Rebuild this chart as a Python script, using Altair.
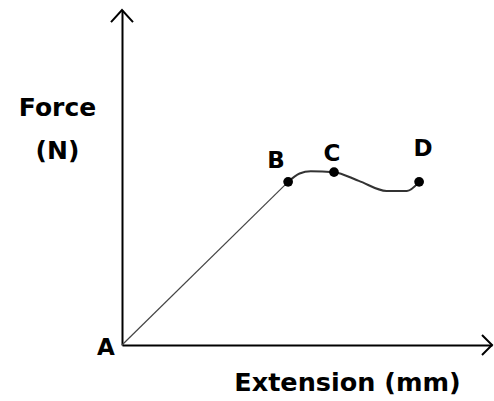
import altair as alt
import pandas as pd

# Force–extension curve: linear region A→B, then yielding B→C→D
linear_ext = [0.0, 4.49]
linear_force = [0.0, 4.87]

curve_ext = [4.49, 4.80, 5.10, 5.73, 6.40, 7.15, 7.70, 8.03]
curve_force = [4.87, 5.12, 5.19, 5.16, 4.90, 4.60, 4.60, 4.87]

point_labels = ["B", "C", "D"]
point_ext = [4.49, 5.73, 8.03]
point_force = [4.87, 5.16, 4.87]

origin_label = "A"
x_title = "Extension (mm)"
y_title = ["Force", "(N)"]
ext_max = 10
force_max = 10

FONT = "DejaVu Sans"

linear_df = pd.DataFrame({"ext": linear_ext, "force": linear_force})
curve_df = pd.DataFrame({"ext": curve_ext, "force": curve_force})
points_df = pd.DataFrame({"label": point_labels, "ext": point_ext, "force": point_force})
origin_df = pd.DataFrame({"label": [origin_label], "ext": [0.0], "force": [0.0]})
x_tip_df = pd.DataFrame({"ext": [ext_max], "force": [0.0]})
y_tip_df = pd.DataFrame({"ext": [0.0], "force": [force_max]})

x_scale = alt.Scale(domain=[0, ext_max], nice=False, zero=True)
y_scale = alt.Scale(domain=[0, force_max], nice=False, zero=True)

x_axis = alt.Axis(
    title=x_title, domain=True, domainColor="black", domainWidth=2,
    ticks=False, labels=False, grid=False,
    titleFont=FONT, titleFontSize=25.5, titleFontWeight="bold", titleColor="black",
    titleX=225, titleY=45, titleAlign="center", titleBaseline="alphabetic",
)
y_axis = alt.Axis(
    title=y_title, domain=True, domainColor="black", domainWidth=2,
    ticks=False, labels=False, grid=False,
    titleFont=FONT, titleFontSize=25, titleFontWeight="bold", titleColor="black",
    titleAngle=0, titleX=-65, titleY=105, titleAlign="center",
    titleBaseline="alphabetic", titleLineHeight=43,
)

x_enc = alt.X("ext:Q", scale=x_scale, axis=x_axis)
y_enc = alt.Y("force:Q", scale=y_scale, axis=y_axis)

linear = alt.Chart(linear_df).mark_line(color="#444444", strokeWidth=1.2).encode(x=x_enc, y=y_enc)

curve = alt.Chart(curve_df).mark_line(
    interpolate="monotone", color="#333333", strokeWidth=2
).encode(x=x_enc, y=y_enc)

markers = alt.Chart(points_df).mark_point(
    filled=True, shape="circle", size=95, color="black", opacity=1
).encode(x=x_enc, y=y_enc)

label_offsets = {"B": (-12, -14), "C": (-2, -11), "D": (4, -26)}
label_layers = []
for lab, (dx, dy) in label_offsets.items():
    label_layers.append(
        alt.Chart(points_df).transform_filter(alt.datum.label == lab).mark_text(
            font=FONT, fontSize=23, fontWeight="bold", color="black",
            align="center", baseline="alphabetic", dx=dx, dy=dy,
        ).encode(x=x_enc, y=y_enc, text="label:N")
    )

origin_text = alt.Chart(origin_df).mark_text(
    font=FONT, fontSize=23, fontWeight="bold", color="black",
    align="center", baseline="alphabetic", dx=-16, dy=10,
).encode(x=x_enc, y=y_enc, text="label:N")

# Open chevron arrowheads at the ends of both axes
x_arrow = alt.Chart(x_tip_df).mark_point(
    shape="M-1,-1L0,0L-1,1", size=400, filled=False, color="black",
    strokeWidth=2, opacity=1,
).encode(x=x_enc, y=y_enc)
y_arrow = alt.Chart(y_tip_df).mark_point(
    shape="M-1,1.1L0,0L1,1.1", size=484, filled=False, color="black",
    strokeWidth=2, opacity=1,
).encode(x=x_enc, y=y_enc)

chart = alt.layer(
    linear, curve, markers, *label_layers, origin_text, x_arrow, y_arrow
).properties(
    width=370, height=335,
    autosize=alt.AutoSizeParams(type="none"),
    padding={"left": 122, "top": 10, "right": 2, "bottom": 56},
    background="white",
).configure_view(stroke=None)

chart.save("out.html", embed_options={"renderer": "svg", "actions": False})
